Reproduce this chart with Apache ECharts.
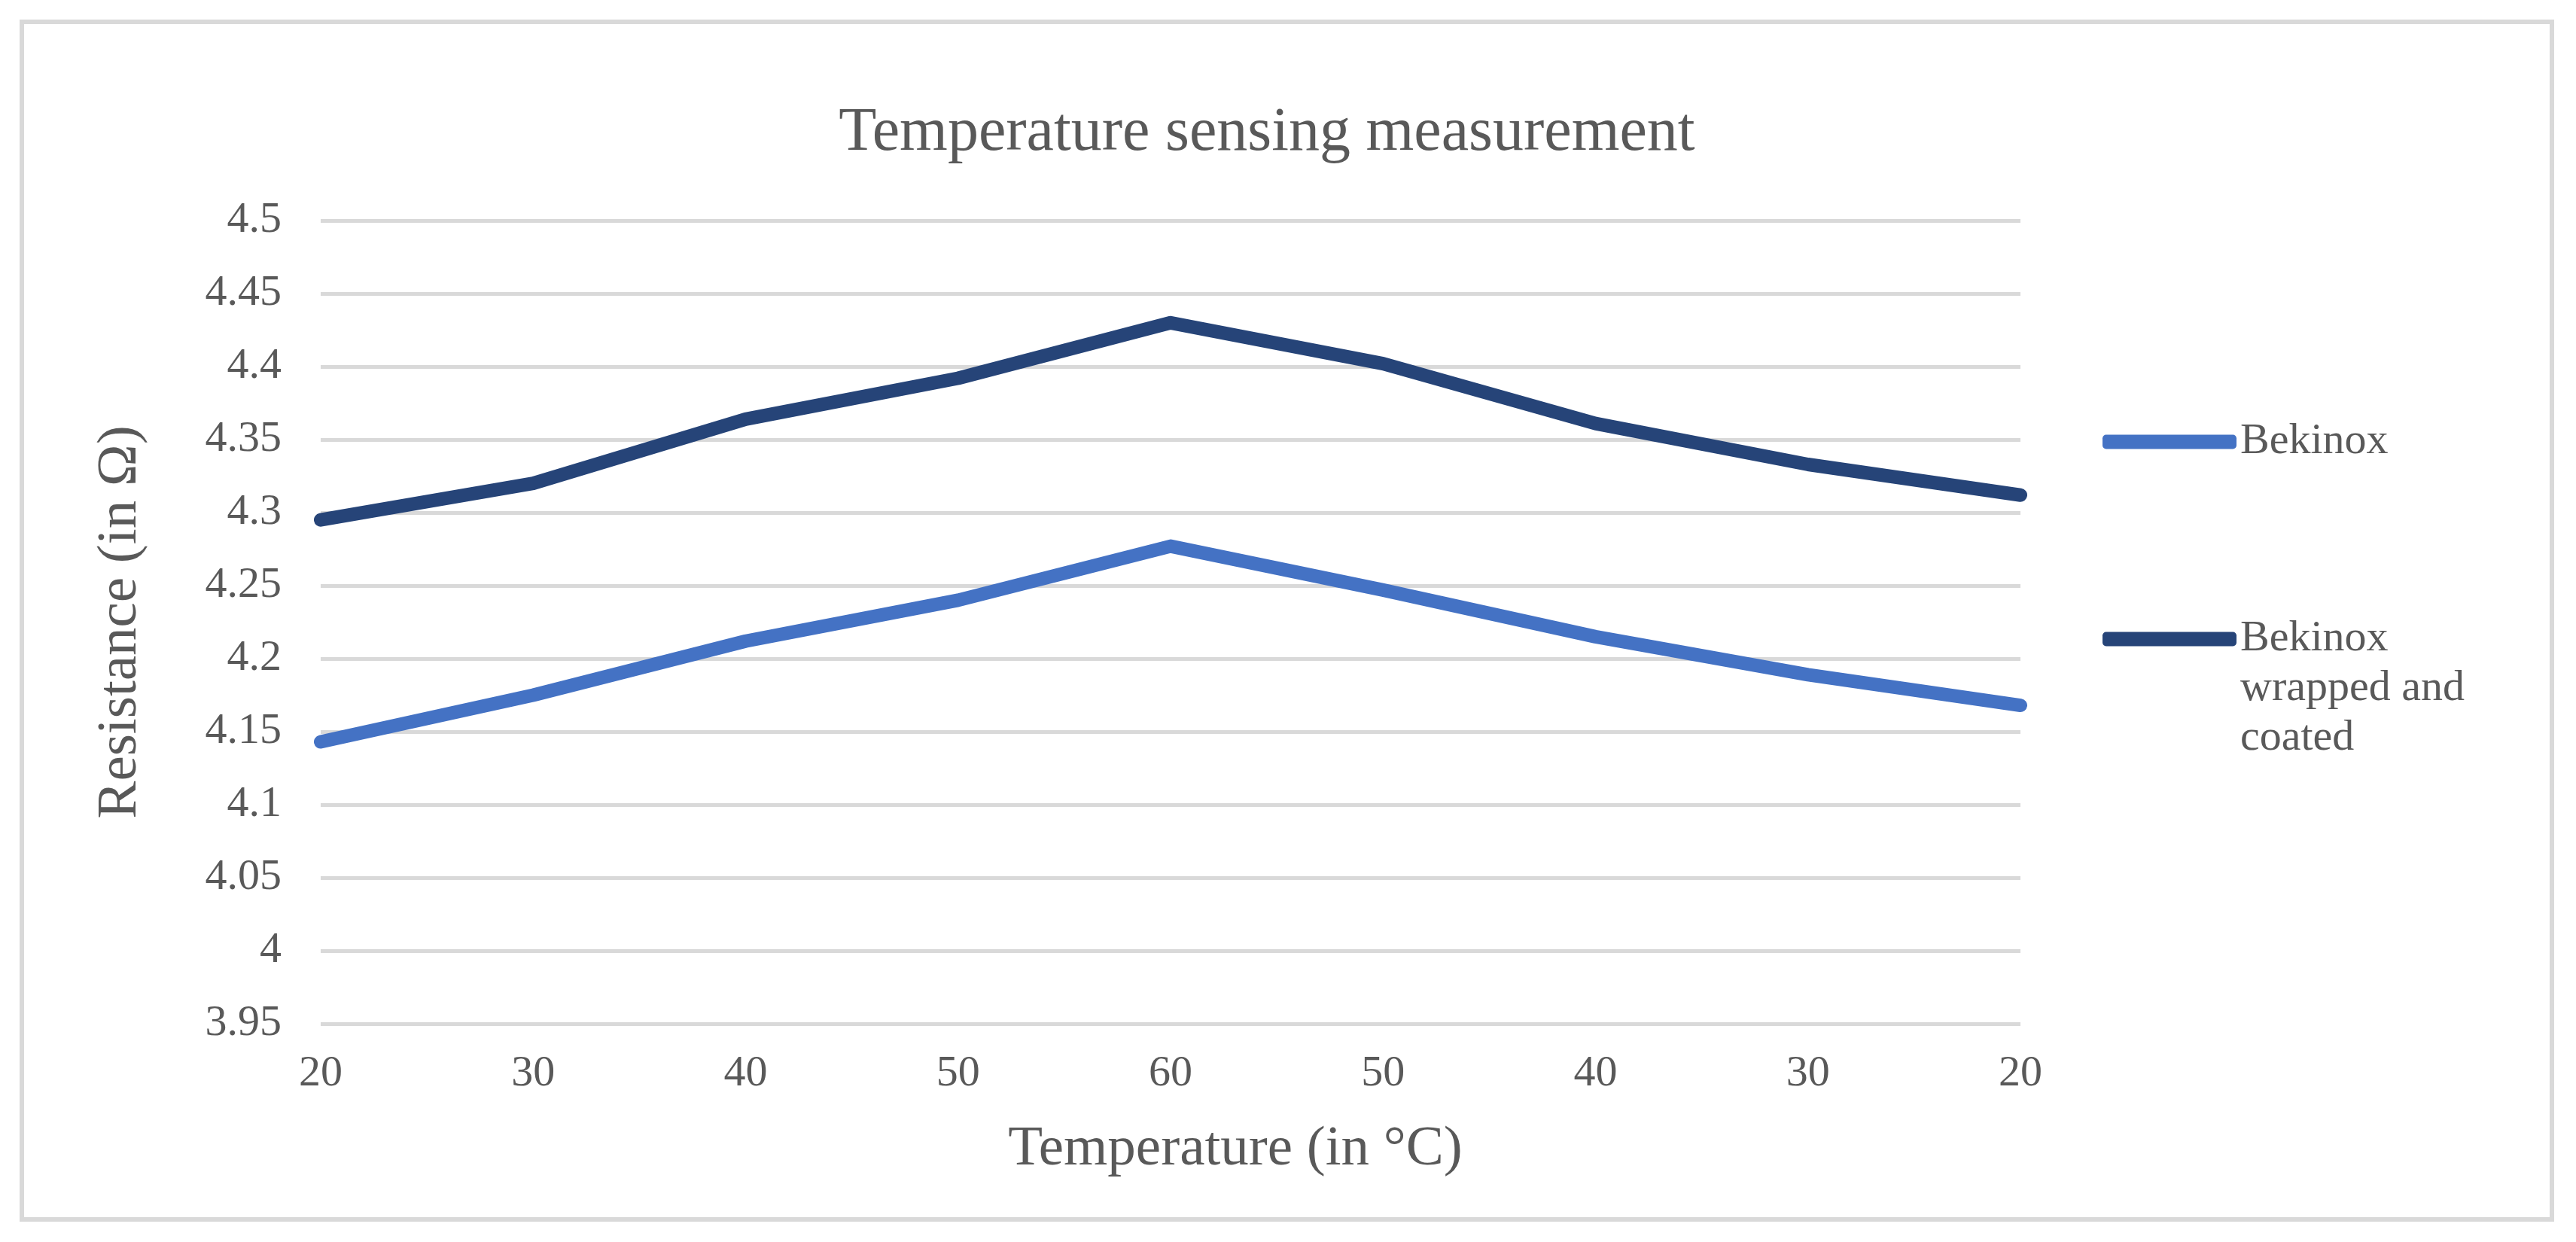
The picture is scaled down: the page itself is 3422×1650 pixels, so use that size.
<!DOCTYPE html>
<html>
<head>
<meta charset="utf-8">
<title>Temperature sensing measurement</title>
<script src="https://cdn.jsdelivr.net/npm/echarts@6/dist/echarts.min.js"></script>
<style>
  html, body { margin: 0; padding: 0; background: #ffffff; }
  #chart { width: 3422px; height: 1650px; }
</style>
</head>
<body>
<div id="chart"></div>
<script>
// temperature steps, heating up then cooling down
const temperatures = ['20', '30', '40', '50', '60', '50', '40', '30', '20'];
const seriesNames = ['Bekinox', 'Bekinox wrapped and coated'];
const bekinox = [4.143, 4.175, 4.212, 4.240, 4.277, 4.247, 4.215, 4.189, 4.168];
const bekinoxWrapped = [4.295, 4.320, 4.364, 4.392, 4.430, 4.402, 4.361, 4.333, 4.312];
const yMin = 3.95;
const yMax = 4.5;
const yStep = 0.05;

const font = 'Liberation Serif';
const grey = '#595959';

var chartDom = document.getElementById('chart');
var myChart = echarts.init(chartDom);

var option = {
    backgroundColor: '#ffffff',
    animation: false,
    graphic: [{
        type: 'rect',
        shape: {x: 29, y: 29, width: 3361, height: 1591},
        style: {fill: 'none', stroke: '#d9d9d9', lineWidth: 6},
        silent: true
    }],
    title: {
        text: 'Temperature sensing measurement',
        left: 1678,
        top: 131,
        textAlign: 'center',
        textStyle: {fontFamily: font, fontSize: 82, fontWeight: 'normal', color: grey}
    },
    legend: {
        orient: 'vertical',
        left: 2788,
        top: 549,
        itemWidth: 178,
        itemHeight: 19,
        itemGap: 64,
        icon: 'roundRect',
        data: seriesNames,
        formatter: name => name === seriesNames[1] ? '\n\nBekinox\nwrapped and\ncoated' : name,
        textStyle: {fontFamily: font, fontSize: 58, color: grey, lineHeight: 66}
    },
    grid: {left: 426, right: 738, top: 293, bottom: 290},
    xAxis: {
        type: 'category',
        data: temperatures,
        boundaryGap: false,
        name: 'Temperature (in °C)',
        nameLocation: 'middle',
        nameGap: 130,
        nameTextStyle: {fontFamily: font, fontSize: 75, color: grey, padding: [0, 0, 0, 172]},
        axisLine: {show: false},
        axisTick: {show: false},
        axisLabel: {interval: 0, margin: 38, fontFamily: font, fontSize: 58, color: grey}
    },
    yAxis: {
        type: 'value',
        min: yMin,
        max: yMax,
        interval: yStep,
        name: 'Resistance (in Ω)',
        nameLocation: 'middle',
        nameGap: 228,
        nameTextStyle: {fontFamily: font, fontSize: 75, color: grey},
        axisLine: {show: false},
        axisTick: {show: false},
        axisLabel: {
            margin: 52,
            fontFamily: font,
            fontSize: 58,
            color: grey,
            formatter: v => String(parseFloat(v.toFixed(2)))
        },
        splitLine: {lineStyle: {color: '#d9d9d9', width: 5}}
    },
    series: [
        {
            name: seriesNames[0],
            type: 'line',
            data: bekinox,
            symbol: 'none',
            lineStyle: {color: '#4472c4', width: 18, join: 'round', cap: 'round'},
            itemStyle: {color: '#4472c4'}
        },
        {
            name: seriesNames[1],
            type: 'line',
            data: bekinoxWrapped,
            symbol: 'none',
            lineStyle: {color: '#264478', width: 18, join: 'round', cap: 'round'},
            itemStyle: {color: '#264478'}
        }
    ]
};

myChart.setOption(option);
</script>
</body>
</html>
